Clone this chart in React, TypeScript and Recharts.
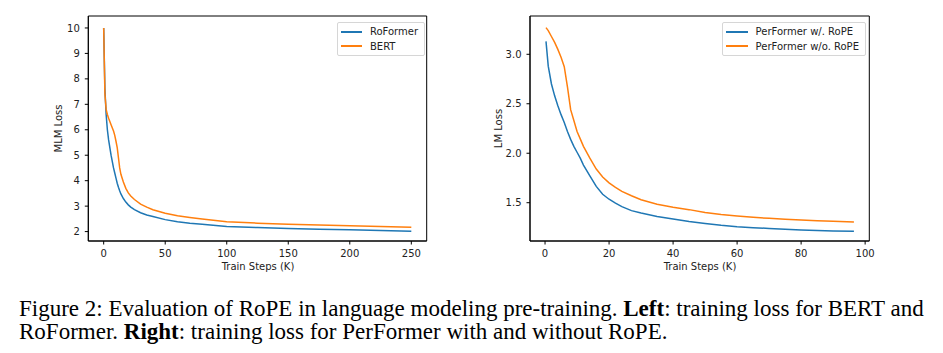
import React from 'react';
import { LineChart, Line, XAxis, YAxis, ReferenceArea } from 'recharts';

// left panel: MLM loss vs train steps (K)
const mlmSteps = [0, 1, 2, 3, 4, 6, 8, 9, 10, 11, 12, 13, 14, 16, 18, 20, 22, 25, 30, 35, 40, 50, 60, 70, 80, 100, 125, 150, 175, 200, 225, 250];
const roformerLoss = [10, 7.6, 6.6, 6.0, 5.6, 5.0, 4.5, 4.3, 4.1, 3.9, 3.74, 3.6, 3.48, 3.3, 3.16, 3.05, 2.96, 2.86, 2.74, 2.65, 2.59, 2.47, 2.39, 2.33, 2.29, 2.2, 2.16, 2.12, 2.09, 2.07, 2.04, 2.01];
const bertLoss = [10, 7.4, 6.8, 6.6, 6.45, 6.2, 5.95, 5.78, 5.55, 5.3, 4.9, 4.5, 4.25, 3.95, 3.7, 3.52, 3.4, 3.26, 3.08, 2.96, 2.86, 2.72, 2.62, 2.55, 2.49, 2.39, 2.33, 2.29, 2.26, 2.23, 2.2, 2.17];

// right panel: LM loss vs train steps (K)
const lmSteps = [0.3, 1, 2, 3, 4, 5, 6, 7, 8, 9, 10, 11, 12, 14, 16, 18, 20, 22, 24, 27, 30, 35, 40, 45, 50, 55, 60, 65, 70, 75, 80, 85, 90, 96.5];
const withRope = [3.13, 2.88, 2.7, 2.58, 2.48, 2.39, 2.31, 2.22, 2.14, 2.07, 2.01, 1.95, 1.88, 1.77, 1.665, 1.585, 1.535, 1.495, 1.46, 1.42, 1.395, 1.36, 1.335, 1.31, 1.29, 1.272, 1.258, 1.248, 1.24, 1.232, 1.224, 1.219, 1.215, 1.212];
const withoutRope = [3.27, 3.24, 3.18, 3.12, 3.05, 2.97, 2.875, 2.67, 2.44, 2.33, 2.22, 2.145, 2.07, 1.95, 1.84, 1.76, 1.7, 1.655, 1.615, 1.57, 1.53, 1.485, 1.455, 1.43, 1.4, 1.38, 1.365, 1.352, 1.342, 1.333, 1.325, 1.318, 1.312, 1.305];

const mlmXTicks = [0, 50, 100, 150, 200, 250];
const mlmYTicks = [2, 3, 4, 5, 6, 7, 8, 9, 10];
const lmXTicks = [0, 20, 40, 60, 80, 100];
const lmYTicks = [1.5, 2.0, 2.5, 3.0];

const BLUE = '#1f77b4';
const ORANGE = '#ff7f0e';
const FONT = '"DejaVu Sans", sans-serif';

const mlmData = mlmSteps.map((x, i) => ({ x, roformer: roformerLoss[i], bert: bertLoss[i] }));
const lmData = lmSteps.map((x, i) => ({ x, w: withRope[i], wo: withoutRope[i] }));

const tickStyle = { fontSize: 10, fontFamily: FONT, fill: '#222' };

// axis title at a fixed spot (px/py so recharts' injected x/y don't clobber it)
function AxisTitle({ px, py, text, vertical }: { px: number; py: number; text: string; vertical?: boolean }) {
    return (
        <text x={px} y={py} textAnchor="middle" dominantBaseline="central" fontSize={10} fontFamily={FONT} fill="#222"
            transform={vertical ? `rotate(-90, ${px}, ${py})` : undefined}>
            {text}
        </text>
    );
}

// matplotlib-style legend box, drawn over the plot
function LegendBox({ left, top, items }: { left: number; top: number; items: { name: string; color: string }[] }) {
    return (
        <div style={{ position: 'absolute', left, top, border: '1px solid #d6d6d6', borderRadius: 2, background: 'white', padding: '2px 6px 2px 3px', fontFamily: FONT, fontSize: 10, color: '#222' }}>
            {items.map((entry, index) => (
                <div key={`item-${index}`} style={{ display: 'flex', alignItems: 'center', height: 14.3 }}>
                    <span style={{ display: 'inline-block', width: 21.7, height: 1.5, background: entry.color, marginRight: 7.6 }}></span>
                    <span>{entry.name}</span>
                </div>
            ))}
        </div>
    );
}

export default function App() {
    return (
        <div style={{ position: 'absolute', left: 0, top: 0, width: 943, height: 353, background: 'white', overflow: 'hidden' }}>
            <div style={{ position: 'absolute', left: 0, top: 0 }}>
                <LineChart width={440} height={280} data={mlmData} margin={{ top: 16, right: 13.3, bottom: 9, left: 0 }}>
                    <XAxis dataKey="x" type="number" domain={[-12.5, 262.5]} ticks={mlmXTicks} tick={tickStyle}
                        stroke="#000" tickSize={3.5} tickMargin={5} height={30} allowDataOverflow
                        label={<AxisTitle px={258} py={266.7} text="Train Steps (K)" />} />
                    <YAxis type="number" domain={[1.63, 10.47]} ticks={mlmYTicks} tick={tickStyle}
                        stroke="#000" tickSize={3.5} tickMargin={5} width={88.3} allowDataOverflow
                        label={<AxisTitle px={58.3} py={128.5} text="MLM Loss" vertical />} />
                    <ReferenceArea x1={-12.5} x2={262.5} y1={1.63} y2={10.47} fill="none" stroke="#000" strokeWidth={1} ifOverflow="visible" />
                    <Line dataKey="roformer" name="RoFormer" stroke={BLUE} strokeWidth={1.5} dot={false} type="linear" isAnimationActive={false} />
                    <Line dataKey="bert" name="BERT" stroke={ORANGE} strokeWidth={1.5} dot={false} type="linear" isAnimationActive={false} />
                </LineChart>
                <LegendBox left={336.7} top={21.7} items={[{ name: 'RoFormer', color: BLUE }, { name: 'BERT', color: ORANGE }]} />
            </div>
            <div style={{ position: 'absolute', left: 440, top: 0 }}>
                <LineChart width={503} height={280} data={lmData} margin={{ top: 16, right: 73.7, bottom: 9, left: 0 }}>
                    <XAxis dataKey="x" type="number" domain={[-4.7, 101.3]} ticks={lmXTicks} tick={tickStyle}
                        stroke="#000" tickSize={3.5} tickMargin={5} height={30} allowDataOverflow
                        label={<AxisTitle px={260} py={266.7} text="Train Steps (K)" />} />
                    <YAxis type="number" domain={[1.113, 3.387]} ticks={lmYTicks} tick={tickStyle}
                        tickFormatter={(v: number) => v.toFixed(1)}
                        stroke="#000" tickSize={3.5} tickMargin={5} width={90} allowDataOverflow
                        label={<AxisTitle px={58.3} py={128.5} text="LM Loss" vertical />} />
                    <ReferenceArea x1={-4.7} x2={101.3} y1={1.113} y2={3.387} fill="none" stroke="#000" strokeWidth={1} ifOverflow="visible" />
                    <Line dataKey="w" name="PerFormer w/. RoPE" stroke={BLUE} strokeWidth={1.5} dot={false} type="linear" isAnimationActive={false} />
                    <Line dataKey="wo" name="PerFormer w/o. RoPE" stroke={ORANGE} strokeWidth={1.5} dot={false} type="linear" isAnimationActive={false} />
                </LineChart>
                <LegendBox left={282.3} top={21.7} items={[{ name: 'PerFormer w/. RoPE', color: BLUE }, { name: 'PerFormer w/o. RoPE', color: ORANGE }]} />
            </div>
            <div style={{ position: 'absolute', left: 19, top: 297.4, fontFamily: '"Liberation Serif", "Times New Roman", serif', fontSize: 23, lineHeight: '23px', color: '#000', whiteSpace: 'nowrap' }}>
                <div>Figure 2: Evaluation of RoPE in language modeling pre-training. <b>Left</b>: training loss for BERT and</div>
                <div>RoFormer. <b>Right</b>: training loss for PerFormer with and without RoPE.</div>
            </div>
        </div>
    );
}
